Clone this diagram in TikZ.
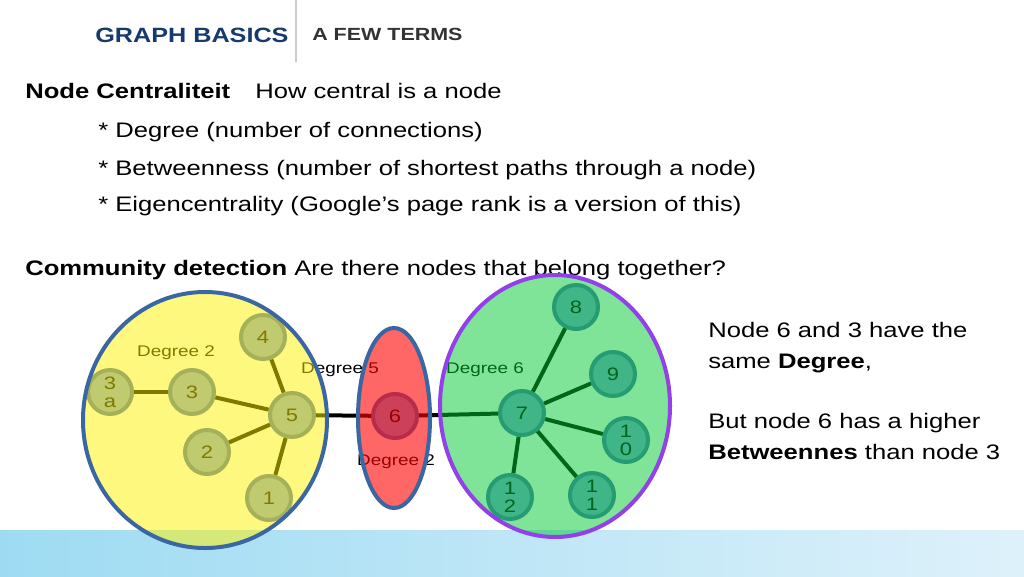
\documentclass[tikz,border=0pt]{standalone}
\usepackage{fontspec}
\setmainfont[FakeStretch=1.22]{Liberation Sans}
\definecolor{navy}{RGB}{22,58,110}
\definecolor{darkgrey}{RGB}{51,51,51}
\definecolor{nodefill}{RGB}{130,162,224}
\definecolor{nodeedge}{RGB}{76,112,180}
\definecolor{ringblue}{RGB}{58,102,162}
\definecolor{ringpurple}{RGB}{146,64,232}
\definecolor{clustergreen}{RGB}{0,200,50}
\definecolor{bandleft}{RGB}{158,219,242}
\definecolor{bandright}{RGB}{222,241,250}
\begin{document}
\begin{tikzpicture}[x=0.75pt, y=-0.75pt,
    gnode/.style={circle, draw=nodeedge, fill=nodefill, line width=3pt, minimum size=33pt,
                  inner sep=0pt, align=center, font=\fontsize{13.5}{13.5}\selectfont},
    link/.style={line width=3pt},
    deg/.style={font=\fontsize{11.6}{14}\selectfont},
    txt/.style={anchor=base west, inner sep=0pt, font=\fontsize{15.75}{19}\selectfont},
    ring/.style={line width=3pt}]
  \useasboundingbox (0,0) rectangle (1024,576);
  \shade[left color=bandleft, right color=bandright] (0,530) rectangle (1024,576);

  % header
  \node[txt, text=navy, font=\fontsize{15.5}{19}\selectfont\bfseries] (head) at (95,42) {GRAPH BASICS};
  \node[txt, text=darkgrey, font=\fontsize{13.2}{16}\selectfont\bfseries] (sub) at (312,40) {A FEW TERMS};
  \draw[black!20, line width=1pt] (296,0) -- (296,62);

  % terms
  \node[txt, font=\fontsize{15.75}{19}\selectfont\bfseries] (cent) at (25,98.5) {Node Centraliteit};
  \node[txt] (how) at (255,98.5) {How central is a node};
  \node[txt] (t1) at (98,137.5) {* Degree (number of connections)};
  \node[txt] (t2) at (98,175.5) {* Betweenness (number of shortest paths through a node)};
  \node[txt] (t3) at (98,211.5) {* Eigencentrality (Google’s page rank is a version of this)};
  \node[txt] (comm) at (25,275.5) {\textbf{Community detection} Are there nodes that belong together?};

  % right-hand note
  \node[txt] (n1) at (708,337) {Node 6 and 3 have the};
  \node[txt] (n2) at (708,368) {same \textbf{Degree},};
  \node[txt] (n3) at (708,428) {But node 6 has a higher};
  \node[txt] (n4) at (708,459) {\textbf{Betweennes} than node 3};

  % graph
  \node[gnode] (v3a) at (110,392) {3\\a};
  \node[gnode] (v3) at (192,392) {3};
  \node[gnode] (v4) at (263,337) {4};
  \node[gnode] (v5) at (292,415) {5};
  \node[gnode] (v2) at (207,452) {2};
  \node[gnode] (v1) at (269,498) {1};
  \node[gnode] (v6) at (395,416) {6};
  \node[gnode] (v7) at (522,413) {7};
  \node[gnode] (v8) at (576,307) {8};
  \node[gnode] (v9) at (613,374) {9};
  \node[gnode] (v10) at (626,440) {1\\0};
  \node[gnode] (v11) at (592,495) {1\\1};
  \node[gnode] (v12) at (510,497) {1\\2};
  \draw[link] (v3a) -- (v3);
  \foreach \u in {v3,v4,v2,v1,v6} \draw[link] (v5) -- (\u);
  \foreach \u in {v6,v8,v9,v10,v11,v12} \draw[link] (v7) -- (\u);

  \node[deg] (d3) at (176,353) {Degree 2};
  \node[deg] (d5) at (340,370) {Degree 5};
  \node[deg] (d6) at (396,462) {Degree 2};
  \node[deg] (d7) at (485,370) {Degree 6};

  % communities (see-through)
  \draw[ring, draw=ringblue, fill=yellow, fill opacity=.5] (205,420) ellipse [x radius=122, y radius=128];
  \draw[ring, draw=ringblue, fill=red, fill opacity=.6] (394,418) ellipse [x radius=36, y radius=90];
  \draw[ring, draw=ringpurple, fill=clustergreen, fill opacity=.5] (555,406) ellipse [x radius=115, y radius=131];
\end{tikzpicture}
\end{document}
